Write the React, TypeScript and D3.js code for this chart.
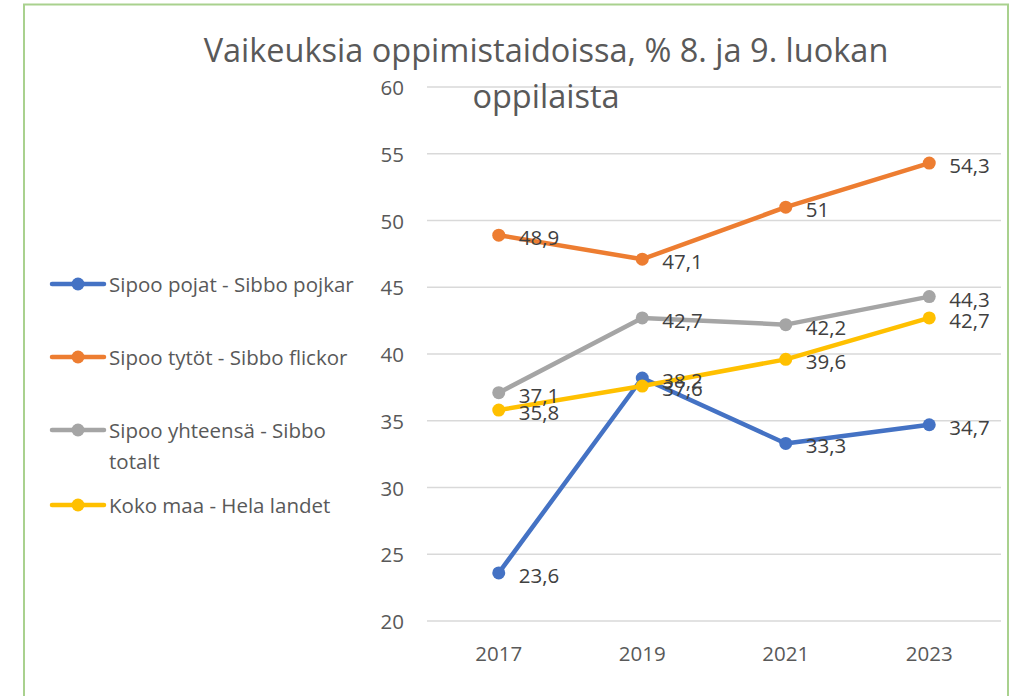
import React from "react";
import * as d3 from "d3";

const years = ["2017", "2019", "2021", "2023"];
const pojat = [23.6, 38.2, 33.3, 34.7];
const tytot = [48.9, 47.1, 51, 54.3];
const yhteensa = [37.1, 42.7, 42.2, 44.3];
const kokoMaa = [35.8, 37.6, 39.6, 42.7];
const yTicks = [20, 25, 30, 35, 40, 45, 50, 55, 60];
const titleLines = ["Vaikeuksia oppimistaidoissa, % 8. ja 9. luokan", "oppilaista"];

const series = [
  { name: ["Sipoo pojat - Sibbo pojkar"], values: pojat, color: "#4472C4" },
  { name: ["Sipoo tytöt - Sibbo flickor"], values: tytot, color: "#ED7D31" },
  { name: ["Sipoo yhteensä - Sibbo", "totalt"], values: yhteensa, color: "#A5A5A5" },
  { name: ["Koko maa - Hela landet"], values: kokoMaa, color: "#FFC000" },
];

const FONT = "'Open Sans', 'Noto Sans', sans-serif";
const TEXT = "#595959";
const FS = 20.5;

export default function App() {
  const W = 1018, H = 696;
  const x = d3.scaleBand<string>().domain(years).range([427, 1001]);
  const y = d3.scaleLinear().domain([20, 60]).range([621, 87]);
  const line = d3
    .line<number>()
    .x((_, i) => (x(years[i]) as number) + x.bandwidth() / 2)
    .y((d) => y(d));
  const cx = (i: number) => (x(years[i]) as number) + x.bandwidth() / 2;
  const legendY = [284, 357, 430, 505];

  return (
    <svg width={W} height={H} style={{ position: "absolute", left: 0, top: 0, background: "#fff" }} fontFamily={FONT}>
      <rect x={24} y={4.5} width={984} height={720} fill="none" stroke="#A9D18E" strokeWidth={2} />
      {yTicks.map((t) => (
        <g key={t}>
          <line x1={427} x2={1001} y1={y(t)} y2={y(t)} stroke="#D9D9D9" strokeWidth={1.5} />
          <text x={404} y={y(t)} textAnchor="end" dominantBaseline="central" fontSize={FS} fill={TEXT}>
            {t}
          </text>
        </g>
      ))}
      {years.map((yr, i) => (
        <text key={yr} x={cx(i)} y={653} textAnchor="middle" dominantBaseline="central" fontSize={FS} fill={TEXT}>
          {yr}
        </text>
      ))}
      {titleLines.map((t, i) => (
        <text key={i} x={546} y={62 + i * 46} textAnchor="middle" fontSize={32.5} fill={TEXT}>
          {t}
        </text>
      ))}
      {series.map((s) => (
        <g key={s.color}>
          <path d={line(s.values) || ""} fill="none" stroke={s.color} strokeWidth={4.5} strokeLinejoin="round" strokeLinecap="round" />
          {s.values.map((v, i) => (
            <circle key={i} cx={cx(i)} cy={y(v)} r={6.5} fill={s.color} />
          ))}
        </g>
      ))}
      {series.map((s) => (
        <g key={"l" + s.color}>
          {s.values.map((v, i) => (
            <text key={i} x={cx(i) + 20} y={y(v) + 2} dominantBaseline="central" fontSize={FS} fill="#404040">
              {String(v).replace(".", ",")}
            </text>
          ))}
        </g>
      ))}
      {series.map((s, k) => (
        <g key={"lg" + s.color}>
          <line x1={52} x2={104} y1={legendY[k]} y2={legendY[k]} stroke={s.color} strokeWidth={4.5} strokeLinecap="round" />
          <circle cx={78} cy={legendY[k]} r={6.5} fill={s.color} />
          {s.name.map((n, j) => (
            <text key={j} x={109} y={legendY[k] + j * 31} dominantBaseline="central" fontSize={FS} fill={TEXT}>
              {n}
            </text>
          ))}
        </g>
      ))}
    </svg>
  );
}
